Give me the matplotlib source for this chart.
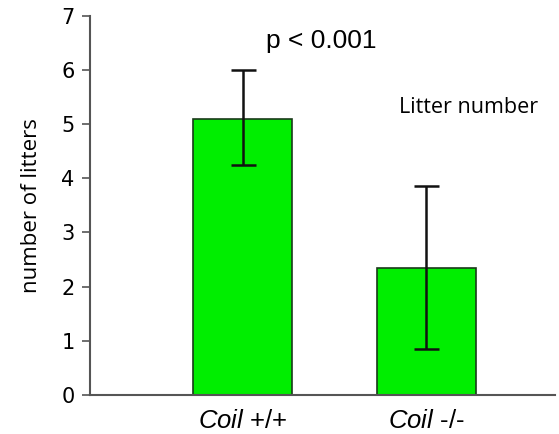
import matplotlib.pyplot as plt

plt.rcParams['mathtext.fontset'] = 'custom'
plt.rcParams['mathtext.it'] = 'Liberation Sans:italic'
plt.rcParams['mathtext.rm'] = 'Liberation Sans'

groups = ['Coil', 'Coil']
genotypes = [' +/+', ' -/-']
litters = [5.1, 2.35]
err_lo = [0.85, 1.5]
err_hi = [0.9, 1.5]

fig = plt.figure(figsize=(5.59, 4.34), dpi=100)
ax = fig.add_axes([0.161, 0.09, 0.832, 0.874])

x = list(range(len(litters)))
ax.bar(x, litters, width=0.54, color='#00ee00', edgecolor='#1a3a1a', linewidth=1.2,
       yerr=[err_lo, err_hi], capsize=9, error_kw=dict(ecolor='#111111', elinewidth=1.8, capthick=1.8),
       zorder=2)

ax.set_xlim(-0.83, 1.70)
ax.set_ylim(0, 7)
ax.set_yticks(range(0, 8))
ax.tick_params(axis='y', labelsize=15, length=6, width=1.2, color='#555555', pad=5)
ax.set_xticks(x)
ax.set_xticklabels([])
ax.tick_params(axis='x', length=0)
for sp in ['top', 'right']:
    ax.spines[sp].set_visible(False)
for sp in ['left', 'bottom']:
    ax.spines[sp].set_color('#555555')
    ax.spines[sp].set_linewidth(1.5)

ax.set_ylabel('number of litters', fontsize=16, family='Open Sans', labelpad=14)

for xi, g, gt in zip(x, groups, genotypes):
    ax.annotate(r'$\it{' + g + '}$' + gt, xy=(xi, 0), xycoords='data',
                xytext=(0, -24), textcoords='offset points', ha='center', va='baseline',
                fontsize=18.5, family='Liberation Sans')

ax.text(0.427, 6.40, 'p < 0.001', fontsize=19, family='Liberation Sans',
        ha='center', va='baseline')
ax.text(1.61, 5.20, 'Litter number', fontsize=15.5, family='Open Sans',
        ha='right', va='baseline')

fig.savefig('out.png', dpi=100)
